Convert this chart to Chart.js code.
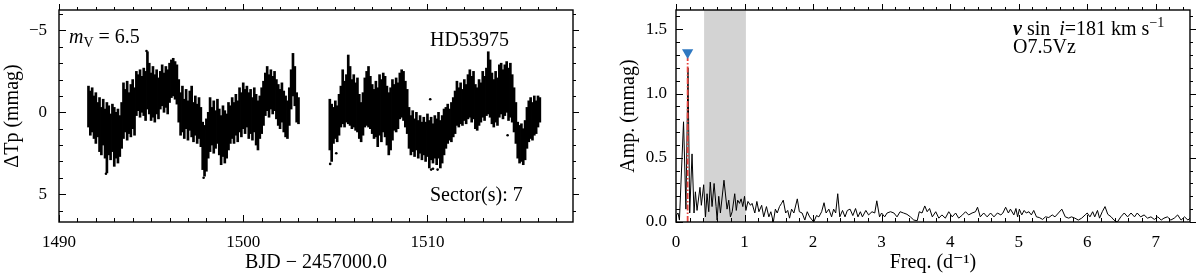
<!DOCTYPE html>
<html>
<head>
<meta charset="utf-8">
<script src="https://cdn.jsdelivr.net/npm/chart.js@4.4.1/dist/chart.umd.min.js"></script>
<style>
    html, body { margin: 0; padding: 0; background: #fff; }
    #wrap { position: relative; width: 1200px; height: 280px; }
    .panel { position: absolute; top: 0; width: 600px; height: 280px; }
</style>
</head>
<body>
<div id="wrap">
    <div class="panel" style="left:0"><canvas id="lc" width="600" height="280"></canvas></div>
    <div class="panel" style="left:600px"><canvas id="ft" width="600" height="280"></canvas></div>
</div>
<script>
// ---- light curve: per 0.1 d bin, brightest (top) and faintest (bottom) point, in mmag
const lcTime = [
    1491.6, 1491.7, 1491.8, 1491.9, 1492.0, 1492.1, 1492.2, 1492.3, 1492.4, 1492.5,
    1492.6, 1492.7, 1492.8, 1492.9, 1493.0, 1493.1, 1493.2, 1493.3, 1493.4, 1493.5,
    1493.6, 1493.7, 1493.8, 1493.9, 1494.0, 1494.1, 1494.2, 1494.3, 1494.4, 1494.5,
    1494.6, 1494.7, 1494.8, 1494.9, 1495.0, 1495.1, 1495.2, 1495.3, 1495.4, 1495.5,
    1495.6, 1495.7, 1495.8, 1495.9, 1496.0, 1496.1, 1496.2, 1496.3, 1496.4, 1496.5,
    1496.6, 1496.7, 1496.8, 1496.9, 1497.0, 1497.1, 1497.2, 1497.3, 1497.4, 1497.5,
    1497.6, 1497.7, 1497.8, 1497.9, 1498.0, 1498.1, 1498.2, 1498.3, 1498.4, 1498.5,
    1498.6, 1498.7, 1498.8, 1498.9, 1499.0, 1499.1, 1499.2, 1499.3, 1499.4, 1499.5,
    1499.6, 1499.7, 1499.8, 1499.9, 1500.0, 1500.1, 1500.2, 1500.3, 1500.4, 1500.5,
    1500.6, 1500.7, 1500.8, 1500.9, 1501.0, 1501.1, 1501.2, 1501.3, 1501.4, 1501.5,
    1501.6, 1501.7, 1501.8, 1501.9, 1502.0, 1502.1, 1502.2, 1502.3, 1502.4, 1502.5,
    1502.6, 1502.7, 1502.8, 1502.9, 1503.0,
    1504.7, 1504.8, 1504.9, 1505.0, 1505.1, 1505.2, 1505.3, 1505.4, 1505.5, 1505.6,
    1505.7, 1505.8, 1505.9, 1506.0, 1506.1, 1506.2, 1506.3, 1506.4, 1506.5, 1506.6,
    1506.7, 1506.8, 1506.9, 1507.0, 1507.1, 1507.2, 1507.3, 1507.4, 1507.5, 1507.6,
    1507.7, 1507.8, 1507.9, 1508.0, 1508.1, 1508.2, 1508.3, 1508.4, 1508.5, 1508.6,
    1508.7, 1508.8, 1508.9, 1509.0, 1509.1, 1509.2, 1509.3, 1509.4, 1509.5, 1509.6,
    1509.7, 1509.8, 1509.9, 1510.0, 1510.1, 1510.2, 1510.3, 1510.4, 1510.5, 1510.6,
    1510.7, 1510.8, 1510.9, 1511.0, 1511.1, 1511.2, 1511.3, 1511.4, 1511.5, 1511.6,
    1511.7, 1511.8, 1511.9, 1512.0, 1512.1, 1512.2, 1512.3, 1512.4, 1512.5, 1512.6,
    1512.7, 1512.8, 1512.9, 1513.0, 1513.1, 1513.2, 1513.3, 1513.4, 1513.5, 1513.6,
    1513.7, 1513.8, 1513.9, 1514.0, 1514.1, 1514.2, 1514.3, 1514.4, 1514.5, 1514.6,
    1514.7, 1514.8, 1514.9, 1515.0, 1515.1, 1515.2, 1515.3, 1515.4, 1515.5, 1515.6,
    1515.7, 1515.8, 1515.9, 1516.0, 1516.1
];
const lcTop = [
    -1.6, -1.3, -1.5, -1.0, -1.2, -0.6, -0.9, -0.3, -0.8, -0.2,
    -0.6, -0.4, 0.1, -0.5, -0.3, 0.0, -0.2, 0.2, -0.6, -1.8,
    -1.4, -1.9, -1.2, -1.7, -2.0, -1.5, -2.5, -2.3, -2.6, -2.2,
    -2.7, -2.5, -3.7, -3.0, -2.4, -2.8, -2.3, -2.6, -2.1, -2.5,
    -2.9, -2.4, -2.8, -2.6, -3.0, -3.2, -3.3, -3.1, -2.9, -2.0,
    -1.2, -1.6, -0.8, -1.4, -0.7, -1.3, -1.6, -0.6, -1.0, -0.5,
    -0.9, -0.3, 0.6, 0.8, 0.4, 0.0, -0.9, -0.3, -0.7, -0.1,
    -0.8, -0.2, 0.2, -0.4, -0.1, 0.1, -0.6, -0.4, -0.9, -0.6,
    -1.1, -0.7, -1.5, -1.2, -1.8, -1.4, -1.6, -1.2, -1.4, -0.9,
    -1.5, -1.1, -0.7, -1.0, -1.5, -1.9, -2.4, -2.8, -2.3, -2.6,
    -2.2, -2.5, -2.0, -1.7, -1.4, -1.8, -1.3, -1.0, -0.7, -1.5,
    -2.6, -3.6, -2.8, -1.2, -0.9,
    -0.8, -0.5, -0.3, -0.7, -0.4, -1.1, -1.6, -2.6, -1.9, -2.3,
    -3.5, -2.8, -2.0, -2.3, -1.8, -2.1, -1.1, -0.6, -1.2, -2.1,
    -2.5, -2.8, -2.2, -1.7, -1.4, -1.9, -1.5, -2.3, -2.0, -2.4,
    -2.2, -1.6, -1.2, -1.5, -2.0, -1.7, -2.1, -1.8, -2.4, -2.6,
    -2.5, -1.9, -1.4, -0.3, 0.2, -0.1, 0.4, 0.0, 0.5, 0.2,
    0.6, 0.3, 0.6, 0.1, 0.5, 0.3, 0.7, 0.2, 0.4, 0.0,
    0.5, 0.2, -0.2, -0.3, -0.5, -0.2, -0.6, -0.9, -1.3, -1.9,
    -1.5, -1.8, -1.4, -2.0, -1.7, -2.3, -2.6, -2.2, -2.5, -1.7,
    -1.5, -2.0, -1.8, -2.5, -2.2, -2.7, -3.7, -3.2, -2.4, -2.0,
    -2.5, -2.1, -2.9, -3.0, -2.6, -2.9, -3.1, -2.7, -3.0, -2.3,
    -1.5, -0.6, 0.6, 0.8, 0.7, 1.0, 0.5, -0.3, -0.7, -0.9,
    -0.6, -1.0, -0.7, -1.0, -0.9
];
const lcBottom = [
    0.9, 1.4, 1.2, 1.6, 1.9, 1.5, 2.4, 2.6, 2.0, 2.8,
    3.7, 2.6, 2.9, 2.4, 3.3, 2.8, 3.1, 2.7, 2.2, 1.6,
    1.2, 1.7, 1.3, 1.5, 1.0, 1.4, 0.2, -0.1, 0.3, 0.0,
    0.2, 0.5, -0.2, 0.1, 0.5, 0.3, 0.6, 0.1, 0.4, -0.2,
    -0.4, 0.0, -0.3, 0.1, -0.6, -0.9, -1.0, -0.8, -0.5, 0.6,
    1.4, 1.2, 1.6, 1.0, 1.7, 1.1, 1.5, 1.8, 1.4, 1.9,
    1.6, 2.1, 3.5, 3.9, 3.6, 2.8, 2.4, 2.0, 2.5, 2.2,
    1.9, 2.6, 3.2, 2.7, 3.1, 2.8, 2.3, 1.9, 1.6, 1.9,
    1.4, 1.8, 1.2, 1.5, 1.0, 1.3, 0.9, 1.6, 1.3, 1.7,
    1.2, 2.0, 2.3, 1.6, 1.3, 0.8, 0.2, -0.1, 0.3, -0.2,
    0.1, -0.1, 0.4, 0.8, 1.0, 0.6, 1.2, 1.5, 1.6, 0.8,
    -0.2, -1.0, -0.4, 0.6, 0.7,
    2.3, 3.0, 1.9, 1.6, 1.8, 1.4, 0.9, 0.7, 0.9, 0.6,
    0.7, 0.8, 1.0, 0.9, 1.1, 1.2, 1.6, 1.8, 1.4, 0.9,
    0.8, 0.9, 1.0, 1.3, 1.6, 1.5, 2.1, 1.4, 1.8, 1.2,
    1.5, 2.0, 2.6, 2.3, 1.7, 1.1, 1.2, 1.0, 0.4, 0.3,
    0.5, 0.9, 1.3, 2.2, 2.6, 2.4, 2.7, 2.3, 2.8, 2.5,
    2.9, 2.6, 3.0, 2.7, 3.4, 2.9, 3.1, 2.8, 3.2, 2.8,
    3.4, 3.1, 2.6, 2.2, 1.9, 1.7, 1.8, 1.5, 1.3, 0.8,
    0.9, 0.7, 0.8, 0.5, 0.7, 0.4, 0.3, 0.6, 0.4, 1.0,
    1.1, 0.8, 0.6, 0.3, 0.5, 0.2, 0.1, 0.3, 0.7, 0.9,
    0.6, 0.8, 0.3, 0.1, 0.4, 0.2, 0.0, 0.5, 0.3, 0.6,
    1.2, 1.9, 2.8, 3.1, 3.0, 3.2, 2.9, 2.2, 1.8, 1.6,
    1.7, 1.4, 1.3, 0.9, 0.6
];
// isolated stray points
const lcOutTime = [1492.55, 1494.75, 1497.85, 1504.72, 1510.2, 1510.3, 1510.55, 1510.15, 1514.35, 1505.05];
const lcOutMag = [3.75, -3.75, 4.0, 3.15, 3.5, 3.45, 3.5, -0.8, 1.4, 2.5];

const lcXTicks = [1490, 1500, 1510];
const lcYTicks = [-5, 0, 5];

// ---- amplitude spectrum (vertices of the curve)
const specFreq = [
    0, 0.03, 0.05, 0.11, 0.145, 0.175, 0.2, 0.234, 0.263, 0.283,
    0.307, 0.35, 0.37, 0.404, 0.43, 0.453, 0.478, 0.5, 0.526, 0.556,
    0.585, 0.6, 0.624, 0.648, 0.7, 0.745, 0.77, 0.794, 0.82, 0.857,
    0.88, 0.9, 0.926, 0.95, 0.975, 1.0, 1.02, 1.05, 1.087, 1.11,
    1.15, 1.18, 1.21, 1.25, 1.28, 1.32, 1.355, 1.384, 1.42, 1.45,
    1.477, 1.51, 1.54, 1.565, 1.6, 1.63, 1.657, 1.686, 1.72, 1.77,
    1.8, 1.84, 1.88, 1.915, 1.95, 2.01, 2.05, 2.085, 2.125, 2.16,
    2.19, 2.23, 2.27, 2.3, 2.33, 2.36, 2.39, 2.43, 2.466, 2.5,
    2.54, 2.58, 2.62, 2.655, 2.69, 2.72, 2.77, 2.81, 2.86, 2.9,
    2.93, 2.97, 3.0, 3.045, 3.08, 3.13, 3.18, 3.225, 3.27, 3.32,
    3.37, 3.42, 3.47, 3.52, 3.55, 3.59, 3.63, 3.665, 3.7, 3.74,
    3.79, 3.835, 3.88, 3.93, 3.98, 4.03, 4.08, 4.125, 4.18, 4.225,
    4.27, 4.32, 4.37, 4.4, 4.44, 4.49, 4.54, 4.59, 4.64, 4.69,
    4.74, 4.77, 4.81, 4.85, 4.88, 4.93, 4.96, 4.985, 5.01, 5.045,
    5.08, 5.11, 5.15, 5.185, 5.22, 5.26, 5.3, 5.35, 5.39, 5.44,
    5.49, 5.53, 5.58, 5.63, 5.68, 5.73, 5.77, 5.82, 5.87, 5.92,
    5.97, 6.0, 6.04, 6.08, 6.11, 6.15, 6.18, 6.22, 6.26, 6.3,
    6.35, 6.39, 6.44, 6.49, 6.54, 6.59, 6.64, 6.69, 6.73, 6.78,
    6.83, 6.88, 6.93, 6.98, 7.03, 7.08, 7.12, 7.17, 7.22, 7.27,
    7.32, 7.37, 7.42, 7.47, 7.5
];
const specAmp = [
    0.05, 0.07, 0.015, 0.78, 0.1, 1.2, 0.07, 0.53, 0.07, 0.235,
    0.09, 0.27, 0.13, 0.29, 0.04, 0.22, 0.08, 0.31, 0.12, 0.3,
    0.12, 0.015, 0.2, 0.07, 0.325, 0.1, 0.17, 0.04, 0.08, 0.22,
    0.09, 0.17, 0.145, 0.18, 0.12, 0.2, 0.09, 0.16, 0.13, 0.145,
    0.07, 0.16, 0.08, 0.13, 0.04, 0.12, 0.04, 0.08, 0.0, 0.1,
    0.07, 0.12, 0.145, 0.17, 0.07, 0.09, 0.03, 0.1, 0.07, 0.18,
    0.08, 0.07, 0.015, 0.08, 0.04, 0.0, 0.05, 0.04, 0.08, 0.15,
    0.07, 0.1, 0.04, 0.1, 0.07, 0.22, 0.04, 0.09, 0.04, 0.09,
    0.1, 0.05, 0.105, 0.04, 0.08, 0.04, 0.09, 0.055, 0.08, 0.07,
    0.165, 0.04, 0.07, 0.04, 0.07, 0.08, 0.07, 0.04, 0.08, 0.07,
    0.06, 0.04, 0.015, 0.01, 0.08, 0.07, 0.125, 0.08, 0.105, 0.04,
    0.08, 0.03, 0.055, 0.03, 0.08, 0.04, 0.07, 0.03, 0.055, 0.08,
    0.055, 0.07, 0.08, 0.115, 0.04, 0.07, 0.04, 0.07, 0.04, 0.07,
    0.055, 0.07, 0.115, 0.07, 0.1, 0.055, 0.105, 0.04, 0.1, 0.055,
    0.09, 0.07, 0.08, 0.055, 0.09, 0.04, 0.035, 0.02, 0.04, 0.035,
    0.055, 0.04, 0.07, 0.1, 0.04, 0.03, 0.04, 0.03, 0.015, 0.03,
    0.055, 0.07, 0.04, 0.08, 0.04, 0.09, 0.03, 0.08, 0.12, 0.06,
    0.04, 0.015, 0.0, 0.04, 0.07, 0.04, 0.07, 0.04, 0.07, 0.04,
    0.055, 0.03, 0.04, 0.02, 0.04, 0.015, 0.03, 0.04, 0.015, 0.03,
    0.055, 0.015, 0.04, 0.015, 0.03
];
const peakFreq = [0.17];
const peakLineTop = [1.28];
const peakMarker = [1.32];
const bandRange = [0.41, 1.02];

const ftXTicks = [0, 1, 2, 3, 4, 5, 6, 7];
const ftYTicks = [0, 0.5, 1.0, 1.5];

const FAMILY = '"Liberation Serif", "DejaVu Serif", serif';
const tickFont = { family: FAMILY, size: 17 };
const titleFont = { family: FAMILY, size: 20 };

/**
 * Box round the plot area, with ticks pointing in on the left/bottom and out on top/right.
 */
const frameTicks = {
    id: 'frameTicks',
    afterDatasetsDraw(chart, args, o) {
        const { ctx, chartArea: a } = chart;
        const xs = chart.scales.x;
        const ys = chart.scales.y;

        const marks = (min, max, step) => {
            const lo = Math.min(min, max), hi = Math.max(min, max);
            const out = [];
            for (let k = Math.ceil(lo / step - 1e-9); k * step <= hi + 1e-9; k++) out.push(k * step);
            return out;
        };
        const isMajor = (v, step) => Math.abs(v / step - Math.round(v / step)) < 1e-6;

        ctx.save();
        ctx.strokeStyle = '#000';
        ctx.lineWidth = 1;
        ctx.beginPath();

        marks(xs.min, xs.max, o.xMinor).forEach(v => {
            const major = isMajor(v, o.xMajor);
            const p = Math.round(xs.getPixelForValue(v)) + 0.5;
            ctx.moveTo(p, a.bottom);
            ctx.lineTo(p, a.bottom - (major ? 7 : 4));
            ctx.moveTo(p, a.top);
            ctx.lineTo(p, a.top - (major ? 6 : 3));
        });

        marks(ys.min, ys.max, o.yMinor).forEach(v => {
            const major = isMajor(v, o.yMajor);
            const p = Math.round(ys.getPixelForValue(v)) + 0.5;
            ctx.moveTo(a.left, p);
            ctx.lineTo(a.left + (major ? 7 : 4), p);
            ctx.moveTo(a.right, p);
            ctx.lineTo(a.right + (major ? 6 : 3), p);
        });

        ctx.stroke();
        ctx.lineWidth = 1.4;
        ctx.strokeRect(a.left, a.top, a.right - a.left, a.bottom - a.top);
        ctx.restore();
    }
};

/**
 * Grey frequency band behind the spectrum.
 */
const greyBand = {
    id: 'greyBand',
    beforeDatasetsDraw(chart, args, o) {
        if (!o.range) return;
        const { ctx, chartArea: a } = chart;
        const x0 = chart.scales.x.getPixelForValue(o.range[0]);
        const x1 = chart.scales.x.getPixelForValue(o.range[1]);
        ctx.save();
        ctx.fillStyle = '#d3d3d3';
        ctx.fillRect(x0, a.top, x1 - x0, a.bottom - a.top);
        ctx.restore();
    }
};

/**
 * Text labels in the plot, made of runs so italics and sub/superscripts work.
 */
const notes = {
    id: 'notes',
    afterDraw(chart, args, o) {
        const { ctx } = chart;
        ctx.save();
        ctx.fillStyle = '#000';
        ctx.textBaseline = 'alphabetic';
        ctx.textAlign = 'left';
        (o.items || []).forEach(item => {
            let cx = item.x;
            item.runs.forEach(r => {
                const small = r.sup || r.sub;
                const size = small ? item.size * 0.7 : item.size;
                ctx.font = `${r.style || ''} ${size}px ${FAMILY}`;
                const dy = r.sup ? -item.size * 0.4 : r.sub ? item.size * 0.22 : 0;
                ctx.fillText(r.t, cx, item.y + dy);
                cx += ctx.measureText(r.t).width;
            });
        });
        ctx.restore();
    }
};

const minus = v => (v < 0 ? '\u2212' + Math.abs(v) : String(v));

// keep the plot box where the layout padding puts it (no extra room for edge labels)
const noPadY = s => { s.paddingTop = 0; s.paddingBottom = 0; };
const noPadX = s => { s.paddingLeft = 0; s.paddingRight = 0; };

// ---- left panel: light curve
new Chart(document.getElementById('lc'), {
    type: 'bar',
    data: {
        datasets: [
            {
                type: 'bar',
                data: lcTime.map((t, i) => ({ x: t, y: [lcTop[i], lcBottom[i]] })),
                backgroundColor: '#000',
                borderWidth: 0,
                barThickness: 2,
                grouped: false,
            },
            {
                type: 'scatter',
                data: lcOutTime.map((t, i) => ({ x: t, y: lcOutMag[i] })),
                backgroundColor: '#000',
                borderWidth: 0,
                pointRadius: 1.3,
            }
        ]
    },
    options: {
        responsive: false,
        animation: false,
        events: [],
        layout: { padding: { top: 10, right: 27, left: 0, bottom: 0 } },
        plugins: {
            legend: { display: false },
            tooltip: { enabled: false },
            frameTicks: { xMinor: 1, xMajor: 10, yMinor: 1, yMajor: 5 },
            notes: {
                items: [
                    { x: 69, y: 43, size: 20, runs: [{ t: 'm', style: 'italic' }, { t: 'V', sub: true }, { t: ' = 6.5' }] },
                    { x: 430, y: 46, size: 20, runs: [{ t: 'HD53975' }] },
                    { x: 430, y: 201, size: 20, runs: [{ t: 'Sector(s): 7' }] },
                ]
            }
        },
        scales: {
            x: {
                type: 'linear',
                min: 1490,
                max: 1517.9,
                offset: false,
                grid: { display: false, drawTicks: false },
                border: { display: false },
                afterBuildTicks: s => { s.ticks = lcXTicks.map(v => ({ value: v })); },
                afterFit: s => { s.height = 58; noPadX(s); },
                ticks: { font: tickFont, color: '#000', padding: 10, autoSkip: false, maxRotation: 0, callback: v => String(v) },
                title: { display: true, text: 'BJD \u2212 2457000.0', font: titleFont, color: '#000', padding: { top: 0, bottom: 5 } },
            },
            y: {
                type: 'linear',
                reverse: true,
                min: -6.25,
                max: 6.7,
                grid: { display: false, drawTicks: false },
                border: { display: false },
                afterBuildTicks: s => { s.ticks = lcYTicks.map(v => ({ value: v })); },
                afterFit: s => { s.width = 59; noPadY(s); },
                ticks: { font: tickFont, color: '#000', padding: 12, autoSkip: false, callback: v => minus(v) },
                title: { display: true, text: '\u0394Tp (mmag)', font: titleFont, color: '#000', padding: { top: 1, bottom: 0 } },
            }
        }
    },
    plugins: [frameTicks, notes]
});

// ---- right panel: amplitude spectrum
new Chart(document.getElementById('ft'), {
    type: 'scatter',
    data: {
        datasets: [
            {
                data: [{ x: peakFreq[0], y: peakMarker[0] }],
                pointStyle: 'triangle',
                rotation: 180,
                pointRadius: 6.5,
                backgroundColor: '#2f78c1',
                borderColor: '#2f78c1',
                borderWidth: 0,
                order: 0,
            },
            {
                data: [{ x: peakFreq[0], y: 0 }, { x: peakFreq[0], y: peakLineTop[0] }],
                showLine: true,
                borderColor: '#e8433d',
                borderWidth: 1.8,
                borderDash: [6, 2, 1.5, 2],
                pointRadius: 0,
                order: 1,
            },
            {
                data: specFreq.map((f, i) => ({ x: f, y: specAmp[i] })),
                showLine: true,
                borderColor: '#000',
                borderWidth: 1,
                pointRadius: 0,
                tension: 0,
                order: 2,
            }
        ]
    },
    options: {
        responsive: false,
        animation: false,
        events: [],
        layout: { padding: { top: 10, right: 10, left: 0, bottom: 0 } },
        plugins: {
            legend: { display: false },
            tooltip: { enabled: false },
            greyBand: { range: bandRange },
            frameTicks: { xMinor: 0.2, xMajor: 1, yMinor: 0.1, yMajor: 0.5 },
            notes: {
                items: [
                    {
                        x: 413, y: 35, size: 20, runs: [
                            { t: 'v', style: 'italic bold' }, { t: ' sin\u2009 ' }, { t: 'i', style: 'italic' },
                            { t: '=181 km s' }, { t: '\u22121', sup: true }
                        ]
                    },
                    { x: 413, y: 53, size: 20, runs: [{ t: 'O7.5Vz' }] },
                ]
            }
        },
        scales: {
            x: {
                type: 'linear',
                min: 0,
                max: 7.5,
                grid: { display: false, drawTicks: false },
                border: { display: false },
                afterBuildTicks: s => { s.ticks = ftXTicks.map(v => ({ value: v })); },
                afterFit: s => { s.height = 58; noPadX(s); },
                ticks: { font: tickFont, color: '#000', padding: 10, autoSkip: false, maxRotation: 0, callback: v => String(v) },
                title: { display: true, text: 'Freq. (d\u207B\u00B9)', font: titleFont, color: '#000', padding: { top: 0, bottom: 5 } },
            },
            y: {
                type: 'linear',
                min: 0,
                max: 1.65,
                grid: { display: false, drawTicks: false },
                border: { display: false },
                afterBuildTicks: s => { s.ticks = ftYTicks.map(v => ({ value: v })); },
                afterFit: s => { s.width = 76; noPadY(s); },
                ticks: { font: tickFont, color: '#000', padding: 9, autoSkip: false, callback: v => Number(v).toFixed(1) },
                title: { display: true, text: 'Amp. (mmag)', font: titleFont, color: '#000', padding: { top: 17, bottom: 0 } },
            }
        }
    },
    plugins: [greyBand, frameTicks, notes]
});
</script>
</body>
</html>
